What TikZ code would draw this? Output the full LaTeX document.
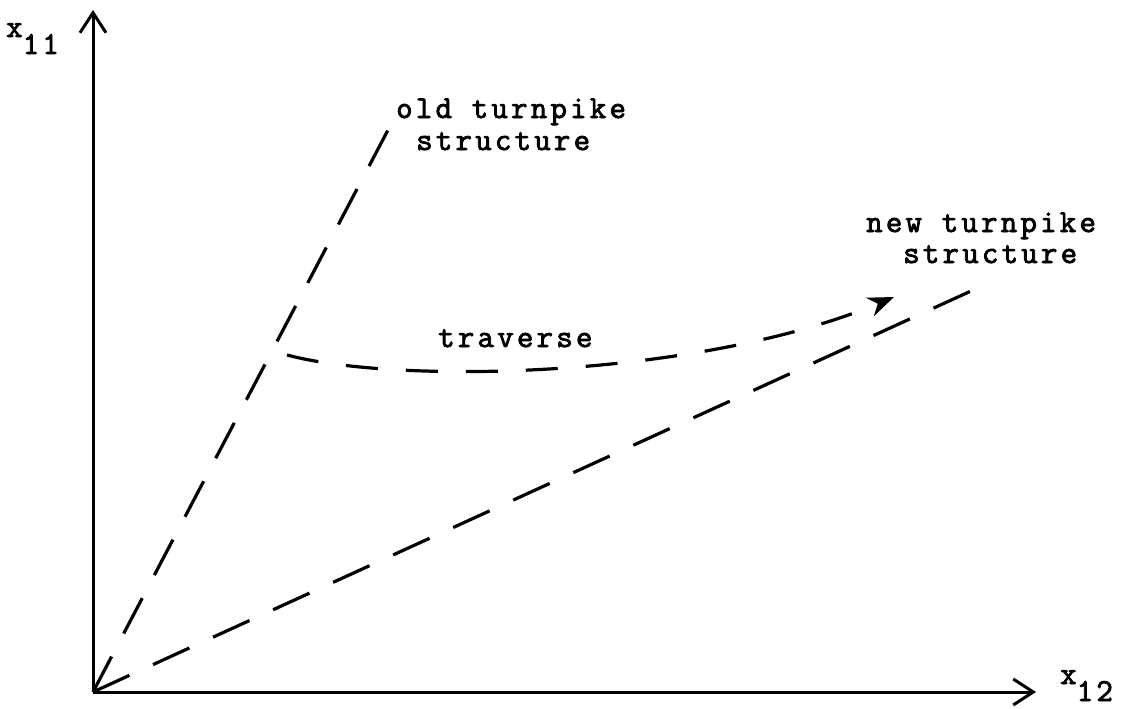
\documentclass[tikz,border=0pt]{standalone}
\usepackage{fontspec}
\usetikzlibrary{arrows.meta}
\newfontfamily\tw[LetterSpace=10,FakeBold=2.5]{Latin Modern Mono}
\begin{document}
\begin{tikzpicture}[x=1pt,y=-1pt,
  axis/.style={line width=3pt,-{Straight Barb[length=20pt,width=26pt,line width=3pt]}},
  ray/.style={line width=3.2pt,dash pattern=on 40pt off 26pt},
  trav/.style={line width=3.2pt,dash pattern=on 32pt off 28pt,-{Stealth[length=26pt,width=20pt]}},
  lbl/.style={anchor=base west,inner sep=0pt,font=\tw\fontsize{32}{32}\selectfont}]
\useasboundingbox (0,0) rectangle (1125,709);
\coordinate (O) at (93,692);
\coordinate (ytop) at (93,10);
\coordinate (xend) at (1036,692);
\coordinate (oldend) at (388,130);
\coordinate (newend) at (982,286);
\coordinate (ts) at (287,355);
\coordinate (te) at (894,297);
\draw[axis] (O) -- (ytop);
\draw[axis] (O) -- (xend);
\draw[ray] (O) -- (oldend);
\draw[ray] (O) -- (newend);
\draw[trav] (ts) .. controls (400,385) and (700,378) .. (te);
\node[lbl] (x11) at (6,37) {x\raisebox{-17pt}{11}};
\node[lbl] (x12) at (1060,684) {x\raisebox{-17pt}{12}};
\node[lbl] (old1) at (396,118) {old turnpike};
\node[lbl] (old2) at (416,150) {structure};
\node[lbl] (new1) at (866,232) {new turnpike};
\node[lbl] (new2) at (903,263) {structure};
\node[lbl] (tr) at (438,347) {traverse};
\end{tikzpicture}
\end{document}
